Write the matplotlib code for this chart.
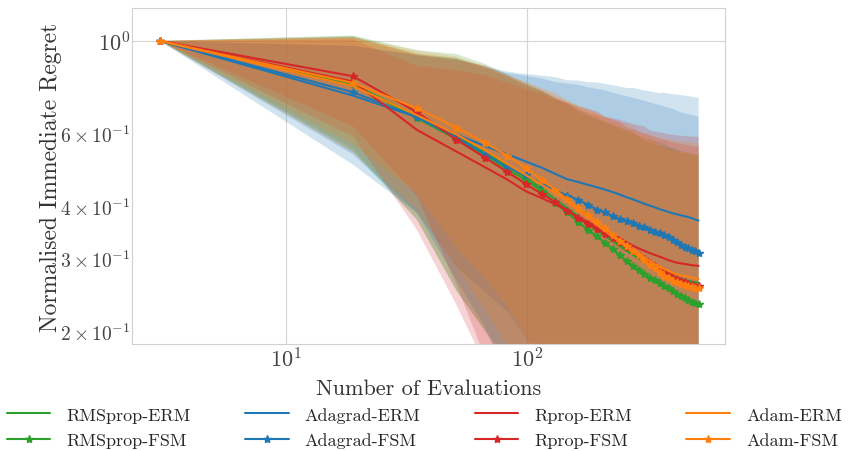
import numpy as np
import matplotlib
matplotlib.use('Agg')
import matplotlib.pyplot as plt
import seaborn as sns

sns.set_style('whitegrid')
plt.rcParams['font.family'] = 'serif'
plt.rcParams['font.serif'] = ['cmr10', 'DejaVu Serif']
plt.rcParams['mathtext.fontset'] = 'cm'
plt.rcParams['axes.formatter.use_mathtext'] = True
plt.rcParams['axes.unicode_minus'] = False

# number of evaluations
evals = [3, 19, 35, 51, 67, 83, 99, 115, 131, 147, 163, 179, 195, 211, 227, 243, 259,
         275, 291, 307, 323, 339, 355, 371, 387, 403, 419, 435, 451, 467, 483, 499, 515]

# mean normalised immediate regret
rmsprop_erm = [1.0, 0.785, 0.660, 0.590, 0.540, 0.500, 0.468, 0.440, 0.415, 0.395, 0.378, 0.362,
               0.350, 0.339, 0.329, 0.320, 0.312, 0.305, 0.299, 0.293, 0.288, 0.284, 0.280, 0.277,
               0.274, 0.271, 0.269, 0.267, 0.265, 0.264, 0.263, 0.262, 0.261]
rmsprop_fsm = [1.0, 0.788, 0.651, 0.580, 0.530, 0.490, 0.462, 0.435, 0.406, 0.386, 0.366, 0.351,
               0.338, 0.326, 0.315, 0.304, 0.295, 0.287, 0.281, 0.275, 0.269, 0.265, 0.261, 0.257,
               0.254, 0.250, 0.246, 0.243, 0.240, 0.238, 0.235, 0.234, 0.232]
adagrad_erm = [1.0, 0.738, 0.655, 0.595, 0.558, 0.533, 0.512, 0.495, 0.478, 0.464, 0.457, 0.450,
               0.444, 0.438, 0.432, 0.426, 0.420, 0.415, 0.410, 0.405, 0.401, 0.397, 0.393, 0.390,
               0.387, 0.384, 0.382, 0.380, 0.378, 0.376, 0.374, 0.371, 0.369]
adagrad_fsm = [1.0, 0.752, 0.655, 0.585, 0.534, 0.496, 0.474, 0.452, 0.436, 0.424, 0.414, 0.403,
               0.392, 0.386, 0.378, 0.372, 0.368, 0.364, 0.359, 0.356, 0.351, 0.347, 0.345, 0.340,
               0.336, 0.332, 0.327, 0.322, 0.319, 0.317, 0.314, 0.312, 0.308]
rprop_erm = [1.0, 0.798, 0.610, 0.541, 0.496, 0.463, 0.434, 0.418, 0.404, 0.390, 0.376, 0.366,
             0.356, 0.347, 0.341, 0.335, 0.327, 0.321, 0.316, 0.312, 0.308, 0.305, 0.302, 0.299,
             0.296, 0.294, 0.292, 0.291, 0.290, 0.289, 0.288, 0.2875, 0.287]
rprop_fsm = [1.0, 0.822, 0.673, 0.578, 0.523, 0.483, 0.452, 0.428, 0.409, 0.390, 0.374, 0.362,
             0.352, 0.343, 0.335, 0.327, 0.319, 0.312, 0.305, 0.298, 0.292, 0.286, 0.281, 0.277,
             0.273, 0.269, 0.267, 0.2645, 0.262, 0.260, 0.2585, 0.257, 0.256]
adam_erm = [1.0, 0.778, 0.662, 0.595, 0.545, 0.505, 0.475, 0.450, 0.430, 0.410, 0.390, 0.375,
            0.360, 0.348, 0.337, 0.328, 0.320, 0.313, 0.306, 0.300, 0.295, 0.290, 0.286, 0.282,
            0.279, 0.276, 0.274, 0.272, 0.271, 0.270, 0.269, 0.268, 0.267]
adam_fsm = [1.0, 0.792, 0.688, 0.618, 0.568, 0.529, 0.494, 0.463, 0.438, 0.415, 0.395, 0.381,
            0.367, 0.354, 0.341, 0.330, 0.321, 0.312, 0.304, 0.296, 0.289, 0.283, 0.278, 0.272,
            0.268, 0.264, 0.262, 0.260, 0.258, 0.256, 0.255, 0.254, 0.2536]

# standard deviations (shaded bands)
rmsprop_erm_std = [0, 0.245, 0.29, 0.34, 0.34, 0.33, 0.32, 0.32, 0.31, 0.31, 0.31, 0.30, 0.30,
                   0.30, 0.30, 0.30, 0.30, 0.30, 0.29, 0.29, 0.29, 0.29, 0.29, 0.29, 0.28, 0.28,
                   0.28, 0.27, 0.27, 0.27, 0.27, 0.27, 0.27]
rmsprop_fsm_std = [0, 0.24, 0.28, 0.33, 0.33, 0.33, 0.32, 0.32, 0.32, 0.32, 0.31, 0.31, 0.31,
                   0.31, 0.31, 0.31, 0.31, 0.31, 0.31, 0.30, 0.30, 0.30, 0.30, 0.30, 0.30, 0.30,
                   0.30, 0.30, 0.30, 0.30, 0.30, 0.30, 0.30]
adagrad_erm_std = [0, 0.235, 0.27, 0.31, 0.31, 0.31, 0.32, 0.33, 0.34, 0.34, 0.345, 0.345, 0.35,
                   0.35, 0.35, 0.35, 0.35, 0.355, 0.355, 0.355, 0.355, 0.355, 0.355, 0.36, 0.36,
                   0.36, 0.36, 0.36, 0.36, 0.36, 0.36, 0.36, 0.36]
adagrad_fsm_std = [0, 0.22, 0.27, 0.32, 0.33, 0.34, 0.35, 0.36, 0.36, 0.365, 0.37, 0.37, 0.374,
                   0.374, 0.372, 0.37, 0.368, 0.366, 0.364, 0.362, 0.36, 0.358, 0.356, 0.355,
                   0.354, 0.353, 0.352, 0.351, 0.35, 0.35, 0.349, 0.348, 0.348]
rprop_erm_std = [0, 0.21, 0.26, 0.31, 0.33, 0.33, 0.33, 0.33, 0.32, 0.32, 0.32, 0.32, 0.32, 0.31,
                 0.31, 0.31, 0.31, 0.31, 0.31, 0.31, 0.30, 0.30, 0.30, 0.30, 0.30, 0.30, 0.30,
                 0.30, 0.30, 0.30, 0.30, 0.30, 0.30]
rprop_fsm_std = [0, 0.20, 0.25, 0.32, 0.35, 0.34, 0.33, 0.33, 0.32, 0.32, 0.31, 0.31, 0.31, 0.31,
                 0.31, 0.31, 0.30, 0.30, 0.30, 0.30, 0.30, 0.30, 0.30, 0.30, 0.30, 0.30, 0.30,
                 0.30, 0.30, 0.30, 0.30, 0.30, 0.30]
adam_erm_std = [0, 0.24, 0.27, 0.31, 0.32, 0.32, 0.32, 0.32, 0.32, 0.31, 0.31, 0.31, 0.31, 0.31,
                0.31, 0.31, 0.31, 0.31, 0.30, 0.30, 0.30, 0.30, 0.30, 0.30, 0.30, 0.30, 0.30,
                0.30, 0.30, 0.30, 0.30, 0.30, 0.30]
adam_fsm_std = [0, 0.23, 0.26, 0.30, 0.30, 0.30, 0.30, 0.30, 0.30, 0.30, 0.30, 0.30, 0.30, 0.29,
                0.29, 0.29, 0.29, 0.29, 0.29, 0.29, 0.29, 0.29, 0.28, 0.28, 0.28, 0.28, 0.28,
                0.28, 0.28, 0.28, 0.28, 0.28, 0.28]

series = [
    ('RMSprop-ERM', rmsprop_erm, rmsprop_erm_std, 'tab:green', None),
    ('RMSprop-FSM', rmsprop_fsm, rmsprop_fsm_std, 'tab:green', '*'),
    ('Adagrad-ERM', adagrad_erm, adagrad_erm_std, 'tab:blue', None),
    ('Adagrad-FSM', adagrad_fsm, adagrad_fsm_std, 'tab:blue', '*'),
    ('Rprop-ERM', rprop_erm, rprop_erm_std, 'tab:red', None),
    ('Rprop-FSM', rprop_fsm, rprop_fsm_std, 'tab:red', '*'),
    ('Adam-ERM', adam_erm, adam_erm_std, 'tab:orange', None),
    ('Adam-FSM', adam_fsm, adam_fsm_std, 'tab:orange', '*'),
]

fig = plt.figure(figsize=(8.49, 4.52), dpi=100)
ax = fig.add_axes([0.1555, 0.2367, 0.6985, 0.7433])
x = np.array(evals)

# shaded bands first, lines on top
for name, mean, std, color, marker in series:
    m = np.array(mean)
    s = np.array(std)
    ax.fill_between(x, m - s, m + s, color=color, alpha=0.2, linewidth=0)

for name, mean, std, color, marker in series:
    ax.plot(x, mean, color=color, marker=marker, markersize=6, linewidth=1.5, label=name)

ax.set_xscale('log')
ax.set_yscale('log')
ax.set_xlim(2.3, 663)
ax.set_ylim(0.186, 1.2)
ax.grid(True, which='major', color='#d5d5d5')
ax.grid(False, which='minor')
for sp in ax.spines.values():
    sp.set_color('#d0d0d0')
ax.tick_params(axis='y', which='major', labelsize=16, colors='#444444', length=0, pad=1.5)
ax.tick_params(axis='x', which='major', labelsize=16, colors='#444444', length=0, pad=2)
ax.tick_params(axis='y', which='minor', labelsize=14, colors='#444444', length=0, pad=1.5)
ax.tick_params(axis='x', which='minor', length=0)
ax.set_xlabel('Number of Evaluations', fontsize=16, color='#333333')
ax.set_ylabel('Normalised Immediate Regret', fontsize=17, color='#333333')
ax.xaxis.set_label_coords(0.5, -0.104)
ax.yaxis.set_label_coords(-0.118, 0.5)

fig.legend(loc='lower center', bbox_to_anchor=(0.5, -0.03), ncol=4, frameon=False,
           fontsize=13, handlelength=2.4, handletextpad=0.9, columnspacing=3.0,
           labelspacing=0.55)

fig.savefig('out.png', dpi=100)
